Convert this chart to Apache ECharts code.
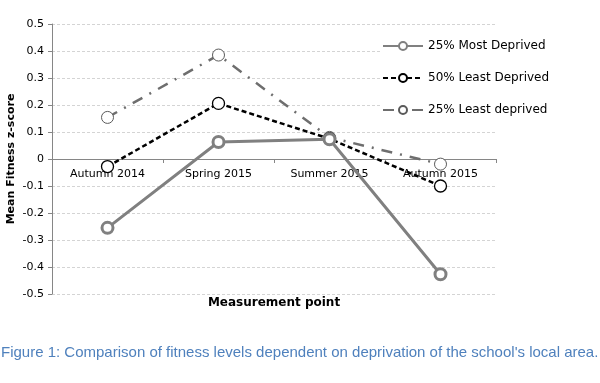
<!DOCTYPE html>
<html><head><meta charset="utf-8">
<script src="https://cdn.jsdelivr.net/npm/echarts@6/dist/echarts.min.js"></script>
<style>html,body{margin:0;padding:0;background:#fff}#c{width:600px;height:383px}</style>
</head><body><div id="c"></div>
<script>
const categories = ['Autumn 2014', 'Spring 2015', 'Summer 2015', 'Autumn 2015'];
const mostDeprived = [-0.255, 0.063, 0.073, -0.427];
const least50 = [-0.028, 0.206, 0.075, -0.100];
const least25 = [0.154, 0.385, 0.080, -0.019];
const seriesNames = ['25% Most Deprived', '50% Least Deprived', '25% Least deprived'];
const yTicks = [-0.5, 0.5, 0.1];

const chart = echarts.init(document.getElementById('c'), null, {renderer: 'canvas'});
const font = 'DejaVu Sans, Verdana, sans-serif';
chart.setOption({
  animation: false,
  backgroundColor: '#fff',
  textStyle: {fontFamily: font},
  title: [{
    text: "Figure 1: Comparison of fitness levels dependent on deprivation of the school's local area.",
    left: 1, top: 345, padding: 0,
    textStyle: {fontFamily: 'Liberation Sans, Arial, sans-serif', fontSize: 15, fontWeight: 'normal', color: '#4F81BD'}
  }],
  grid: {left: 52, right: 104, top: 24, bottom: 89, outerBoundsMode: 'none', containLabel: false},
  legend: {
    orient: 'vertical', left: 380, top: 38,
    backgroundColor: '#fff', padding: [2, 4, 2, 2],
    itemWidth: 40, itemHeight: 10, itemGap: 20,
    textStyle: {fontFamily: font, fontSize: 12, color: '#000'},
    data: seriesNames
  },
  xAxis: {
    type: 'category', data: categories, position: 'bottom', offset: -135,
    name: 'Measurement point', nameLocation: 'middle', nameGap: 138, nameMoveOverlap: false,
    nameTextStyle: {fontWeight: 'bold', fontSize: 12, color: '#000'},
    axisLine: {onZero: false, lineStyle: {color: '#868686', width: 1}},
    axisTick: {show: true, length: 4, lineStyle: {color: '#868686'}},
    axisLabel: {fontSize: 11, color: '#000', margin: 10},
    splitLine: {show: false}
  },
  yAxis: {
    type: 'value', min: yTicks[0], max: yTicks[1], interval: yTicks[2],
    name: 'Mean Fitness z-score', nameLocation: 'middle', nameGap: 35, nameRotate: 90, nameMoveOverlap: false,
    nameTextStyle: {fontWeight: 'bold', fontSize: 11, color: '#000'},
    axisLine: {show: true, lineStyle: {color: '#868686'}},
    axisTick: {show: true, length: 4, lineStyle: {color: '#868686'}},
    axisLabel: {fontSize: 11, color: '#000', margin: 8,
      formatter: v => Math.abs(v) < 1e-9 ? '0' : v.toFixed(1)},
    splitLine: {lineStyle: {color: '#d4d4d4', type: [3, 2], width: 1}}
  },
  series: [
    {name: seriesNames[2], type: 'line', data: least25, z: 2,
      symbol: 'circle', symbolSize: 12,
      lineStyle: {color: '#6e6e6e', width: 2.5, type: [11, 8, 2, 8]},
      itemStyle: {color: '#fff', borderColor: '#5a5a5a', borderWidth: 1}},
    {name: seriesNames[1], type: 'line', data: least50, z: 3,
      symbol: 'circle', symbolSize: 12,
      lineStyle: {color: '#000', width: 2.5, type: [5, 3]},
      itemStyle: {color: '#fff', borderColor: '#000', borderWidth: 1.3}},
    {name: seriesNames[0], type: 'line', data: mostDeprived, z: 4,
      symbol: 'circle', symbolSize: 11,
      lineStyle: {color: '#808080', width: 3},
      itemStyle: {color: '#fff', borderColor: '#808080', borderWidth: 3}}
  ]
});
</script></body></html>
